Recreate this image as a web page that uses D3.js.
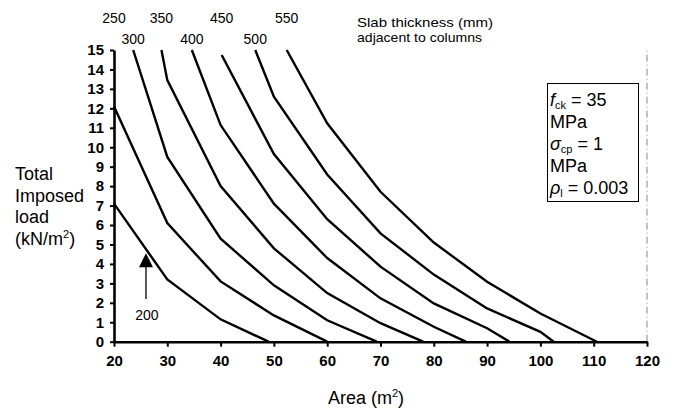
<!DOCTYPE html>
<html>
<head>
<meta charset="utf-8">
<script src="https://cdn.jsdelivr.net/npm/d3@7"></script>
<style>
  body { margin: 0; background: #fff; }
  text { font-family: "Liberation Sans", Arial, sans-serif; fill: #000; }
</style>
</head>
<body>
<div id="chart"></div>
<script>
(function() {

  var width = 674;
  var height = 412;

  // slab thickness adjacent to columns (mm), one curve each
  var thickness = [200, 250, 300, 350, 400, 450, 500, 550];

  // [area (m2), total imposed load (kN/m2)]
  var load200 = [[20, 7.1], [30, 3.2], [40, 1.15], [49, 0]];
  var load250 = [[20, 12.1], [30, 6.1], [40, 3.1], [50, 1.35], [60, 0]];
  var load300 = [[23.6, 15], [30, 9.5], [40, 5.3], [50, 2.9], [60, 1.1], [69.3, 0]];
  var load350 = [[28.9, 15], [30, 13.45], [40, 8.0], [50, 4.8], [60, 2.5], [70, 0.95], [78, 0]];
  var load400 = [[34.6, 15], [40, 11.14], [50, 7.1], [60, 4.3], [70, 2.23], [80, 0.77], [86, 0]];
  var load450 = [[40.2, 14.74], [50, 9.65], [60, 6.3], [70, 3.86], [80, 1.97], [90, 0.69], [94.2, 0]];
  var load500 = [[46.5, 15], [50, 12.6], [60, 8.6], [70, 5.57], [80, 3.45], [90, 1.71], [100, 0.51], [102.5, 0]];
  var load550 = [[52.4, 15], [60, 11.23], [70, 7.71], [80, 5.1], [90, 3.08], [100, 1.45], [110.6, 0]];

  var curves = [load200, load250, load300, load350, load400, load450, load500, load550];

  var xTicks = [20, 30, 40, 50, 60, 70, 80, 90, 100, 110, 120];
  var yTicks = [0, 1, 2, 3, 4, 5, 6, 7, 8, 9, 10, 11, 12, 13, 14, 15];

  // arrow pointing at the 200 mm curve (area, load)
  var arrow200 = [[26, 2.2], [26, 4.55]];

  var svg = d3.select("#chart")
    .append("svg")
    .attr("width", width)
    .attr("height", height);

  var x = d3.scaleLinear().domain([20, 120]).range([114, 647]);
  var y = d3.scaleLinear().domain([0, 15]).range([341.7, 50]);

  // dashed edge line at 120
  svg.append("line")
    .attr("x1", x(120)).attr("x2", x(120))
    .attr("y1", y(0)).attr("y2", y(15))
    .attr("stroke", "#888")
    .attr("stroke-width", 1)
    .attr("stroke-dasharray", "7,3,1,3");

  // axes
  var xAxis = svg.append("g")
    .attr("transform", "translate(0," + y(0) + ")")
    .call(d3.axisBottom(x).tickValues(xTicks).tickSize(5).tickSizeOuter(0).tickPadding(9));

  var yAxis = svg.append("g")
    .attr("transform", "translate(" + x(20) + ",0)")
    .call(d3.axisLeft(y).tickValues(yTicks).tickSize(4).tickSizeOuter(0).tickPadding(6));

  [xAxis, yAxis].forEach(function(g) {
    g.select(".domain").attr("stroke", "#000").attr("stroke-width", 2.6);
    g.selectAll(".tick line").attr("stroke", "#000").attr("stroke-width", 2);
    g.selectAll(".tick text")
      .attr("font-family", "'Liberation Sans', Arial, sans-serif")
      .attr("font-size", 15)
      .attr("font-weight", "bold")
      .attr("fill", "#000");
  });

  // curves
  var line = d3.line()
    .x(function(d) { return x(d[0]); })
    .y(function(d) { return y(d[1]); });

  svg.selectAll(".curve")
    .data(curves)
    .enter().append("path")
    .attr("class", "curve")
    .attr("d", line)
    .attr("fill", "none")
    .attr("stroke", "#000")
    .attr("stroke-width", 2.4);

  // thickness labels above the curves, two staggered rows
  svg.selectAll(".thick-label")
    .data(thickness.slice(1))
    .enter().append("text")
    .attr("class", "thick-label")
    .attr("x", function(d, i) { return x(curves[i + 1][0][0]); })
    .attr("y", function(d, i) { return i % 2 === 0 ? 23 : 44; })
    .attr("text-anchor", "middle")
    .attr("font-size", 14)
    .text(function(d) { return d; });

  svg.append("text")
    .attr("x", 357).attr("y", 27)
    .attr("font-size", 13.5)
    .attr("textLength", 136)
    .attr("lengthAdjust", "spacingAndGlyphs")
    .text("Slab thickness (mm)");
  svg.append("text")
    .attr("x", 357).attr("y", 42)
    .attr("font-size", 13.5)
    .attr("textLength", 125)
    .attr("lengthAdjust", "spacingAndGlyphs")
    .text("adjacent to columns");

  // arrow + 200 label
  svg.append("line")
    .attr("x1", x(arrow200[0][0])).attr("x2", x(arrow200[0][0]))
    .attr("y1", y(arrow200[0][1])).attr("y2", y(arrow200[1][1]) + 12)
    .attr("stroke", "#000")
    .attr("stroke-width", 1.3);

  svg.append("path")
    .attr("d", "M" + x(arrow200[1][0]) + "," + y(arrow200[1][1]) +
      "l-7,14l14,0z")
    .attr("fill", "#000");

  svg.append("text")
    .attr("x", x(arrow200[0][0]) + 1).attr("y", 320)
    .attr("text-anchor", "middle")
    .attr("font-size", 14)
    .text(thickness[0]);

  // axis titles
  var xTitle = svg.append("text")
    .attr("x", 366).attr("y", 404)
    .attr("text-anchor", "middle")
    .attr("font-size", 18);
  xTitle.append("tspan").text("Area (m");
  xTitle.append("tspan").attr("font-size", 11).attr("dy", -7).text("2");
  xTitle.append("tspan").attr("dy", 7).text(")");

  var yTitle = svg.append("text")
    .attr("font-size", 18);
  yTitle.append("tspan").attr("x", 15).attr("y", 180).text("Total");
  yTitle.append("tspan").attr("x", 15).attr("y", 202).text("Imposed");
  yTitle.append("tspan").attr("x", 15).attr("y", 223).text("load");
  yTitle.append("tspan").attr("x", 15).attr("y", 245).text("(kN/m");
  yTitle.append("tspan").attr("font-size", 11).attr("dy", -7).text("2");
  yTitle.append("tspan").attr("dy", 7).text(")");

  // parameter box, one text per line
  svg.append("rect")
    .attr("x", 547.5).attr("y", 83.5)
    .attr("width", 91).attr("height", 118)
    .attr("fill", "#fff")
    .attr("stroke", "#000")
    .attr("stroke-width", 1);

  function boxLine(yPos, symbol, sub, rest) {
    var t = svg.append("text")
      .attr("x", 550).attr("y", yPos)
      .attr("font-size", 18);
    if (sub) {
      t.append("tspan").attr("font-style", "italic").text(symbol);
      t.append("tspan").attr("font-size", 11).attr("dy", 3).text(sub);
      t.append("tspan").attr("dy", -3).text(rest);
    } else {
      t.text(symbol);
    }
  }

  boxLine(106, "f", "ck", " = 35");
  boxLine(128, "MPa");
  boxLine(150, "\u03c3", "cp", " = 1");
  boxLine(172, "MPa");
  boxLine(194, "\u03c1", "l", " = 0.003");

})();
</script>
</body>
</html>
